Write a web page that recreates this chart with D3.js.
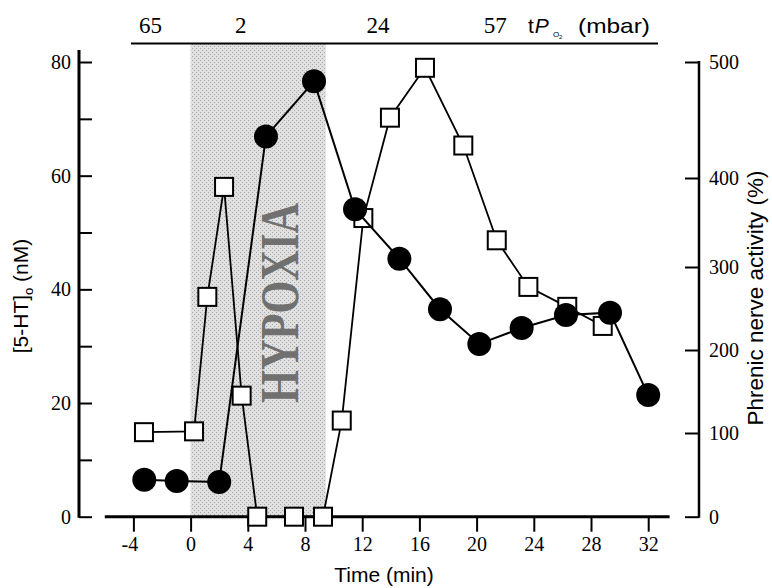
<!DOCTYPE html>
<html>
<head>
<meta charset="utf-8">
<script src="https://cdn.jsdelivr.net/npm/d3@7/dist/d3.min.js"></script>
<style>
  html, body { margin: 0; padding: 0; background: #fff; }
  svg { display: block; }
</style>
</head>
<body>
<div id="chart"></div>
<script>
// ---- data ----
const times5HT = [-3.24, -0.97, 2.0, 5.27, 8.63, 11.5, 14.6, 17.44, 20.19, 23.15, 26.25, 29.33, 32.0];
const values5HT = [6.5, 6.3, 6.1, 66.9, 76.6, 54.1, 45.4, 36.5, 30.4, 33.2, 35.5, 35.9, 21.4];
const timesPhrenic = [-3.26, 0.24, 1.17, 2.34, 3.57, 4.66, 7.23, 9.26, 10.57, 12.08, 13.94, 16.39, 19.07, 21.41, 23.62, 26.34, 28.82];
const valuesPhrenic = [101, 102, 264, 390, 145, 0, 0, 0, 115, 355, 452, 495, 428, 330, 276, 252, 229];
const timeTicks = [-4, 0, 4, 8, 12, 16, 20, 24, 28, 32];
const leftTicks = [0, 10, 20, 30, 40, 50, 60, 70, 80];
const rightTicks = [0, 100, 200, 300, 400, 500];
const po2Labels = ["65", "2", "24", "57"];
const po2Times = [-2.8, 3.5, 13.1, 21.3];
const hypoxiaStart = 0, hypoxiaEnd = 9.45;

const W = 772, H = 588;
const svg = d3.select("#chart").append("svg").attr("width", W).attr("height", H);

const x = d3.scaleLinear().domain([0, 32]).range([190.6, 648.2]);
const yL = d3.scaleLinear().domain([0, 80]).range([516.7, 62]);
const yR = d3.scaleLinear().domain(rightTicks).range([516.7, 433, 350, 267, 178, 62]);

const serif = "Liberation Serif, Times New Roman, serif";
const sans = "Liberation Sans, Arial, Helvetica, sans-serif";

// stipple pattern
const defs = svg.append("defs");
const pat = defs.append("pattern").attr("id", "stip").attr("width", 4).attr("height", 4)
  .attr("patternUnits", "userSpaceOnUse");
pat.append("rect").attr("width", 4).attr("height", 4).attr("fill", "#e0e0e0");
pat.append("rect").attr("x", 0).attr("y", 0).attr("width", 1).attr("height", 1).attr("fill", "#a8a8a8");
pat.append("rect").attr("x", 2).attr("y", 2).attr("width", 1).attr("height", 1).attr("fill", "#a8a8a8");

const topY = 43.5;
// hypoxia shading
svg.append("rect")
  .attr("x", x(hypoxiaStart)).attr("y", topY)
  .attr("width", x(hypoxiaEnd) - x(hypoxiaStart))
  .attr("height", yL(0) - topY)
  .attr("fill", "url(#stip)");

// HYPOXIA label
svg.append("text")
  .attr("transform", `translate(${x(hypoxiaStart) + 107},303) rotate(-90)`)
  .attr("text-anchor", "middle")
  .attr("font-family", serif).attr("font-weight", "bold")
  .attr("font-size", 54)
  .attr("textLength", 200).attr("lengthAdjust", "spacingAndGlyphs")
  .attr("fill", "#707070")
  .text("HYPOXIA");

// top PO2 line & labels
svg.append("line").attr("x1", 131).attr("x2", 658).attr("y1", topY).attr("y2", topY)
  .attr("stroke", "#000").attr("stroke-width", 2);
svg.selectAll("text.po2").data(po2Labels).join("text")
  .attr("class", "po2")
  .attr("x", (d, i) => x(po2Times[i])).attr("y", 33)
  .attr("text-anchor", "middle")
  .attr("font-family", serif).attr("font-size", 23)
  .text(d => d);
const tp = svg.append("text").attr("x", 528).attr("y", 33)
  .attr("font-family", sans).attr("font-size", 21);
tp.append("tspan").text("t");
tp.append("tspan").attr("font-style", "italic").attr("dx", 1).text("P");
svg.append("text").attr("x", 553).attr("y", 37).attr("font-family", sans).attr("font-size", 8).text("O");
svg.append("text").attr("x", 559).attr("y", 39).attr("font-family", sans).attr("font-size", 6).text("2");
svg.append("text").attr("x", 578).attr("y", 33)
  .attr("font-family", sans).attr("font-size", 21)
  .attr("textLength", 72).attr("lengthAdjust", "spacingAndGlyphs")
  .text("(mbar)");

// x axis
const xAxis = d3.axisBottom(x).tickValues(timeTicks).tickSize(15).tickPadding(5)
  .tickFormat(d => String(d));
const gx = svg.append("g").attr("transform", `translate(0,${yL(0)})`).call(xAxis);
gx.attr("font-family", serif);
gx.select(".domain").remove();
gx.selectAll(".tick line").attr("stroke", "#000").attr("stroke-width", 2);
gx.selectAll(".tick text").attr("font-family", serif).attr("font-size", 20).attr("fill", "#000")
  .attr("dx", d => d < 0 ? -4 : 0);
svg.append("line").attr("x1", x(-6)).attr("x2", x(33.5)).attr("y1", yL(0)).attr("y2", yL(0))
  .attr("stroke", "#000").attr("stroke-width", 3);

// left axis
const leftAxis = d3.axisLeft(yL).tickValues(leftTicks).tickSize(-13).tickPadding(8)
  .tickFormat(d => d % 20 === 0 ? String(d) : "");
const gl = svg.append("g").attr("transform", `translate(79,0)`).call(leftAxis);
gl.attr("font-family", serif);
gl.select(".domain").remove();
gl.selectAll(".tick line").attr("stroke", "#000").attr("stroke-width", 2);
gl.selectAll(".tick text").attr("font-family", serif).attr("font-size", 20).attr("fill", "#000");
svg.append("line").attr("x1", 79).attr("x2", 79).attr("y1", yL(0) + 1).attr("y2", 50)
  .attr("stroke", "#000").attr("stroke-width", 3);

// right axis
const rightAxis = d3.axisRight(yR).tickValues(rightTicks).tickSize(-14).tickPadding(10)
  .tickFormat(d => String(d));
const gr = svg.append("g").attr("transform", `translate(699,0)`).call(rightAxis);
gr.attr("font-family", serif);
gr.select(".domain").remove();
gr.selectAll(".tick line").attr("stroke", "#000").attr("stroke-width", 2);
gr.selectAll(".tick text").attr("font-family", serif).attr("font-size", 20).attr("fill", "#000");
svg.append("line").attr("x1", 699).attr("x2", 699).attr("y1", yR(0) + 1).attr("y2", yR(500) - 1)
  .attr("stroke", "#000").attr("stroke-width", 2.5);

// axis titles
svg.append("text").attr("x", 384).attr("y", 582).attr("text-anchor", "middle")
  .attr("font-family", sans).attr("font-size", 21).text("Time (min)");
const lt = svg.append("text").attr("transform", "translate(28,296) rotate(-90)")
  .attr("text-anchor", "middle").attr("font-family", sans).attr("font-size", 21);
lt.append("tspan").text("[5-HT]");
lt.append("tspan").attr("font-size", 13).attr("dy", 5).text("o");
lt.append("tspan").attr("dy", -5).text(" (nM)");
svg.append("text").attr("transform", "translate(763,298) rotate(-90)")
  .attr("text-anchor", "middle").attr("font-family", sans).attr("font-size", 22.5)
  .text("Phrenic nerve activity (%)");

// phrenic series (squares)
const phr = timesPhrenic.map((t, i) => ({ t, v: valuesPhrenic[i] }));
const ht = times5HT.map((t, i) => ({ t, v: values5HT[i] }));

svg.append("path").datum(phr)
  .attr("d", d3.line().x(d => x(d.t)).y(d => yR(d.v)))
  .attr("fill", "none").attr("stroke", "#000").attr("stroke-width", 1.8);
const sq = 18;
svg.selectAll("rect.sq").data(phr).join("rect").attr("class", "sq")
  .attr("x", d => x(d.t) - sq / 2).attr("y", d => yR(d.v) - sq / 2)
  .attr("width", sq).attr("height", sq)
  .attr("fill", "#fff").attr("stroke", "#000").attr("stroke-width", 2);

// 5-HT series (circles)
svg.append("path").datum(ht)
  .attr("d", d3.line().x(d => x(d.t)).y(d => yL(d.v)))
  .attr("fill", "none").attr("stroke", "#000").attr("stroke-width", 2);
svg.selectAll("circle.ht").data(ht).join("circle").attr("class", "ht")
  .attr("cx", d => x(d.t)).attr("cy", d => yL(d.v)).attr("r", 12)
  .attr("fill", "#000");
</script>
</body>
</html>
